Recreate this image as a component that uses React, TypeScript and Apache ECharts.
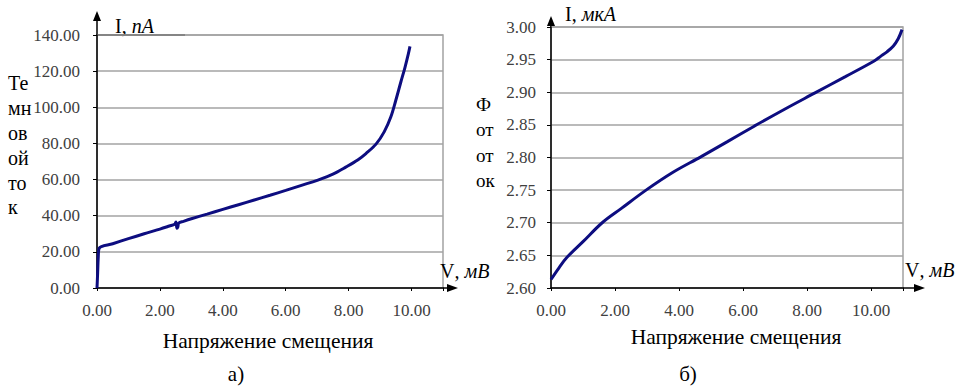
import React, { useEffect, useRef } from "react";
import * as echarts from "echarts";

// ---- Data ----
// a) Dark current I (nA) vs bias voltage V (mV)
const darkV = [0, 0.02, 0.04, 0.07, 0.5, 1, 1.5, 2, 2.3, 2.47, 2.51, 2.54, 2.57, 2.6, 2.75, 3, 3.5, 4, 4.5, 5, 5.5, 6, 6.5, 7, 7.5, 7.92, 8.3, 8.55, 8.87, 9.13, 9.34, 9.5, 9.66, 9.79, 9.9, 9.95];
const darkI = [0, 8, 17, 22, 24.5, 27.3, 30, 32.6, 34.3, 35.3, 36.5, 33, 33.8, 36, 36.9, 38.3, 40.9, 43.5, 46.1, 48.7, 51.3, 54, 56.8, 59.6, 63, 67, 71, 74.4, 79.6, 86.4, 94.6, 103.9, 114, 122, 129.7, 133.7];

// б) Photocurrent I (µA) vs bias voltage V (mV)
const photoV = [0, 0.25, 0.5, 1, 1.6, 2.2, 2.97, 3.8, 4.68, 5.5, 6.35, 7.3, 8.25, 9.2, 10.1, 10.3, 10.5, 10.7, 10.85, 10.97];
const photoI = [2.613, 2.631, 2.647, 2.671, 2.7, 2.722, 2.75, 2.777, 2.801, 2.824, 2.848, 2.874, 2.899, 2.924, 2.948, 2.955, 2.962, 2.971, 2.982, 2.996];

const xMin = 0;
const xMax = 11;
const xInterval = 2;
const darkYMin = 0;
const darkYMax = 140;
const darkYInterval = 20;
const photoYMin = 2.6;
const photoYMax = 3.0;
const photoYInterval = 0.05;

const xTitle = "Напряжение смещения";
const darkYTitle = "Те\nмн\nов\nой\nто\nк";
const photoYTitle = "Ф\nот\nот\nок";

// ---- Layout ----
const W = 959;
const H = 387;
const G1 = { left: 97, top: 35, right: 443, bottom: 288 };
const G2 = { left: 551, top: 27, right: 903, bottom: 288 };
const FONT = "Liberation Serif";
const GRID_COLOR = "#a3a3a3";
const LABEL_COLOR = "#404040";
const LINE_COLOR = "#0d0d80";

function pairs(xs: number[], ys: number[]) {
  return xs.map((x, i) => [x, ys[i]]);
}

function arrowUp(x: number, yTip: number) {
  return {
    type: "polygon",
    shape: { points: [[x, yTip], [x - 4, yTip + 10], [x + 4, yTip + 10]] },
    style: { fill: "#000" },
  };
}
function arrowRight(xTip: number, y: number) {
  return {
    type: "polygon",
    shape: { points: [[xTip, y], [xTip - 11, y - 4], [xTip - 11, y + 4]] },
    style: { fill: "#000" },
  };
}
function seg(x1: number, y1: number, x2: number, y2: number, color = "#000", w = 1.5) {
  return { type: "line", shape: { x1, y1, x2, y2 }, style: { stroke: color, lineWidth: w } };
}
function unitText(x: number, y: number, a: string, b: string, size = 20) {
  return {
    type: "text",
    x,
    y,
    style: {
      text: `{n|${a}}{i|${b}}`,
      verticalAlign: "middle",
      rich: {
        n: { fontFamily: FONT, fontSize: size, fill: "#000" },
        i: { fontFamily: FONT, fontSize: size, fontStyle: "italic", fill: "#000" },
      },
    },
  };
}
function plainText(x: number, y: number, text: string, size: number, align = "center", lineHeight = 0, vAlign = "middle") {
  const style: any = {
    text,
    fontFamily: FONT,
    fontSize: size,
    fill: "#000",
    align,
    verticalAlign: vAlign,
  };
  if (lineHeight) style.lineHeight = lineHeight;
  return { type: "text", x, y, style };
}

export default function App() {
  const ref = useRef<HTMLDivElement>(null);
  useEffect(() => {
    if (!ref.current) return;
    const chart = echarts.init(ref.current, null, { renderer: "svg", width: W, height: H });
    const axisLabelX = {
      fontFamily: FONT,
      fontSize: 17,
      color: LABEL_COLOR,
      margin: 14,
      formatter: (v: number) => (v > 10.01 ? "" : v.toFixed(2)),
    };
    const gridOf = (g: typeof G1) => ({
      left: g.left,
      top: g.top,
      width: g.right - g.left,
      height: g.bottom - g.top,
      show: true,
      borderColor: GRID_COLOR,
      borderWidth: 1.5,
      backgroundColor: "transparent",
    });
    const xAxisOf = (gi: number) => ({
      type: "value",
      gridIndex: gi,
      min: xMin,
      max: xMax,
      interval: xInterval,
      axisLine: { show: true, onZero: false, lineStyle: { color: "#000", width: 1.5 } },
      axisTick: { show: true, length: 3, lineStyle: { color: "#000" } },
      splitLine: { show: false },
      axisLabel: axisLabelX,
    });
    const yAxisOf = (gi: number, min: number, max: number, interval: number, margin: number) => ({
      type: "value",
      gridIndex: gi,
      min,
      max,
      interval,
      axisLine: { show: true, onZero: false, lineStyle: { color: "#000", width: 1.5 } },
      axisTick: { show: true, length: 4, lineStyle: { color: "#000" } },
      splitLine: { show: true, lineStyle: { color: GRID_COLOR, width: 1.5 } },
      axisLabel: {
        fontFamily: FONT,
        fontSize: 17,
        color: LABEL_COLOR,
        margin,
        formatter: (v: number) => v.toFixed(2),
      },
    });

    chart.setOption({
      animation: false,
      backgroundColor: "#fff",
      grid: [gridOf(G1), gridOf(G2)],
      xAxis: [xAxisOf(0), xAxisOf(1)],
      yAxis: [
        yAxisOf(0, darkYMin, darkYMax, darkYInterval, 17),
        yAxisOf(1, photoYMin, photoYMax, photoYInterval, 15),
      ],
      series: [
        {
          type: "line",
          xAxisIndex: 0,
          yAxisIndex: 0,
          data: pairs(darkV, darkI),
          showSymbol: false,
          smooth: 0.35,
          lineStyle: { color: LINE_COLOR, width: 3 },
          z: 5,
        },
        {
          type: "line",
          xAxisIndex: 1,
          yAxisIndex: 1,
          data: pairs(photoV, photoI),
          showSymbol: false,
          smooth: 0.35,
          lineStyle: { color: LINE_COLOR, width: 3 },
          z: 5,
        },
      ],
      graphic: [
        // left chart decorations
        seg(G1.left, G1.top, G1.left, 18),
        arrowUp(G1.left, 11),
        seg(G1.right, G1.bottom, 450, G1.bottom),
        arrowRight(458, G1.bottom),
        seg(G1.left, G1.top, 185, G1.top),
        unitText(115, 26, "I, ", "nA"),
        plainText(8, 71, darkYTitle, 20, "left", 24.8, "top"),
        unitText(440, 271, "V", ", мВ"),
        plainText(268, 341, xTitle, 21.5),
        plainText(236, 374, "а)", 21),
        // right chart decorations
        seg(G2.left, G2.top, G2.left, 24),
        arrowUp(G2.left, 16),
        seg(G2.right, G2.bottom, 916, G2.bottom),
        arrowRight(925, G2.bottom),
        unitText(565, 14, "I, ", "мкА"),
        plainText(476, 92, photoYTitle, 19, "left", 25.3, "top"),
        unitText(905, 270, "V", ", мВ"),
        plainText(736, 337, xTitle, 21.5),
        plainText(688, 374, "б)", 21),
      ],
    });
    return () => chart.dispose();
  }, []);
  return (
    <div
      ref={ref}
      style={{ position: "absolute", left: 0, top: 0, width: W, height: H, background: "#fff" }}
    />
  );
}
